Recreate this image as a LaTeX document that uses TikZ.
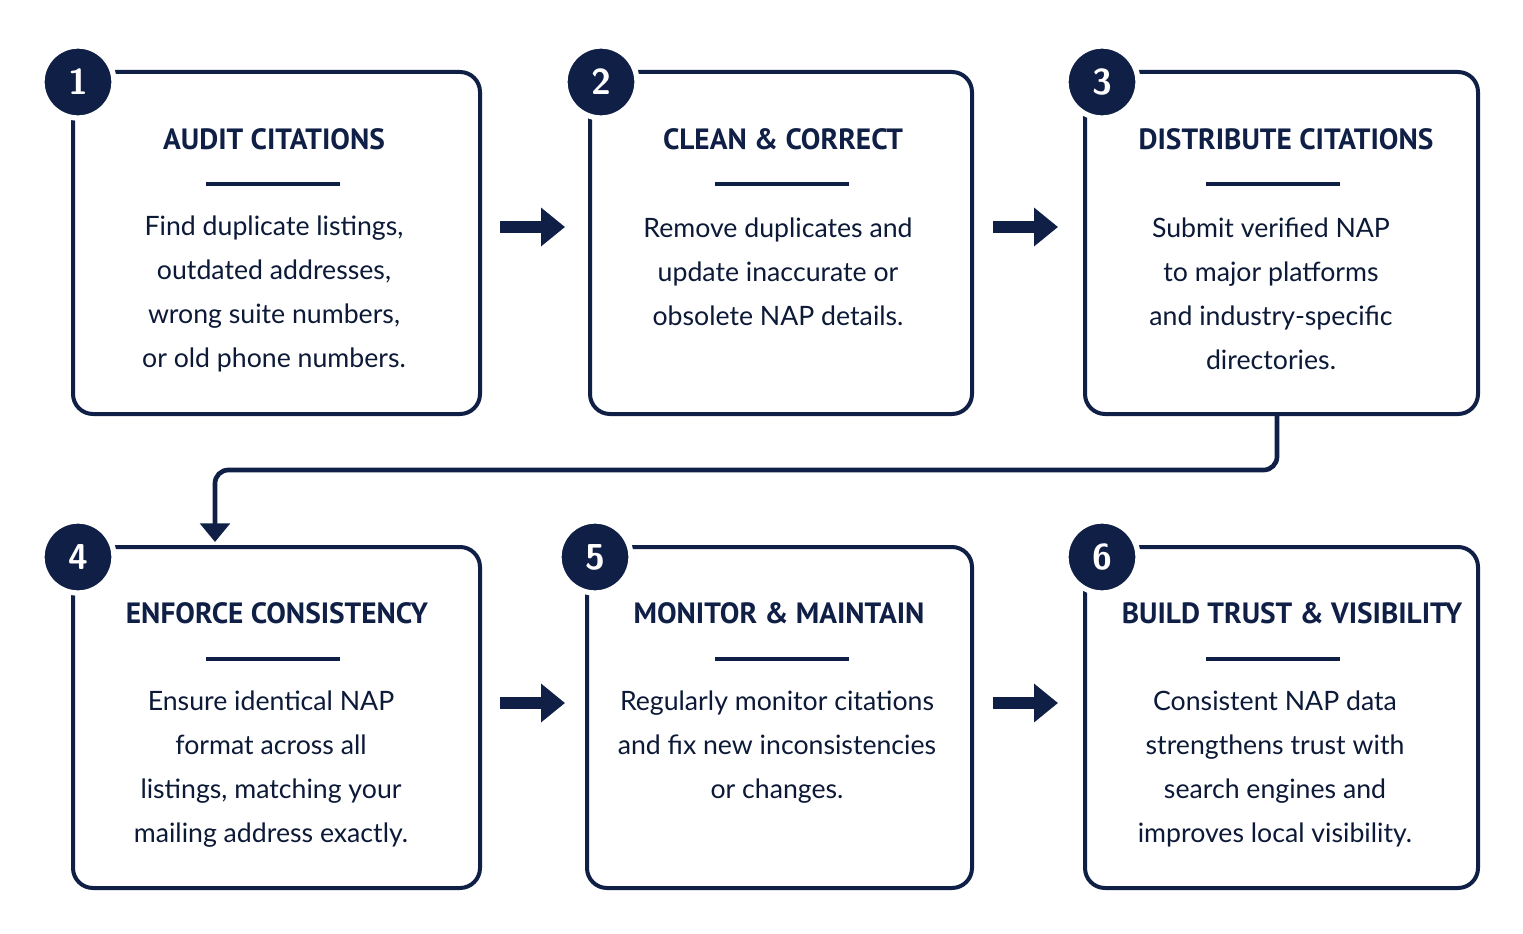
\documentclass[tikz,border=0pt]{standalone}
\usepackage{fontspec}
\setmainfont{Lato}
\newfontfamily\titlefont{PT Sans}
\usetikzlibrary{arrows.meta}
\definecolor{navy}{HTML}{0F1F45}
\tikzset{every picture/.style={line width=0.75pt}}
\tikzset{
  stepbox/.style={draw=navy,line width=3pt,rounded corners=15pt,fill=white},
  stepnum/.style={circle,fill=navy,draw=white,line width=4pt,minimum size=54pt,inner sep=0pt,text=white,font=\fontsize{27}{27}\selectfont\bfseries\sffamily},
  steptitle/.style={text=navy,inner sep=0.75pt,font=\titlefont\bfseries\fontsize{22}{26}\selectfont},
  stepbody/.style={text=navy!80!black,inner sep=0.75pt,align=center,font=\fontsize{20}{33}\selectfont},
  flow/.style={draw=navy,line width=9pt,-{Triangle[length=18pt,width=28pt]}},
  link/.style={draw=navy,line width=3.5pt,rounded corners=10pt,-{Triangle[length=14pt,width=22pt]}}
}
\begin{document}
\begin{tikzpicture}[x=0.75pt,y=0.75pt,yscale=-1,xscale=1]
\useasboundingbox (0,0) rectangle (1523,934);

%Boxes
\draw[stepbox] (73,72) rectangle (480,414);
\draw[stepbox] (590,72) rectangle (972,414);
\draw[stepbox] (1085,72) rectangle (1478,414);
\draw[stepbox] (73,547) rectangle (480,888);
\draw[stepbox] (587,547) rectangle (972,888);
\draw[stepbox] (1085,547) rectangle (1478,888);

%Number badges
\node[stepnum] (n1) at (78,82) {1};
\node[stepnum] (n2) at (601,82) {2};
\node[stepnum] (n3) at (1102,82) {3};
\node[stepnum] (n4) at (78,557) {4};
\node[stepnum] (n5) at (595,557) {5};
\node[stepnum] (n6) at (1102,557) {6};

%Titles
\node[steptitle] (t1) at (274,139) {AUDIT CITATIONS};
\node[steptitle] (t2) at (783,139) {CLEAN \& CORRECT};
\node[steptitle] (t3) at (1286,139) {DISTRIBUTE CITATIONS};
\node[steptitle] (t4) at (277,613) {ENFORCE CONSISTENCY};
\node[steptitle] (t5) at (779,613) {MONITOR \& MAINTAIN};
\node[steptitle] (t6) at (1292,613) {BUILD TRUST \& VISIBILITY};

%Rules
\foreach \x/\y in {273/184,782/184,1273/184,273/659,782/659,1273/659}
  \draw[navy,line width=3pt] (\x-67,\y) -- (\x+67,\y);

%Texts
\node[stepbody] (b1) at (274,294) {Find duplicate listings,\\outdated addresses,\\wrong suite numbers,\\or old phone numbers.};
\node[stepbody] (b2) at (778,272) {Remove duplicates and\\update inaccurate or\\obsolete NAP details.};
\node[stepbody] (b3) at (1271,294) {Submit verified NAP\\to major platforms\\and industry-specific\\directories.};
\node[stepbody] (b4) at (271,769) {Ensure identical NAP\\format across all\\listings, matching your\\mailing address exactly.};
\node[stepbody] (b5) at (777,747) {Regularly monitor citations\\and fix new inconsistencies\\or changes.};
\node[stepbody] (b6) at (1275,769) {Consistent NAP data\\strengthens trust with\\search engines and\\improves local visibility.};

%Connectors
\coordinate (a1) at (500,227); \coordinate (a2) at (565,227);
\coordinate (a3) at (993,227); \coordinate (a4) at (1058,227);
\coordinate (a5) at (500,703); \coordinate (a6) at (565,703);
\coordinate (a7) at (993,703); \coordinate (a8) at (1058,703);
\draw[flow] (a1) -- (a2);
\draw[flow] (a3) -- (a4);
\draw[flow] (a5) -- (a6);
\draw[flow] (a7) -- (a8);
\coordinate (d1) at (1277,416); \coordinate (d2) at (215,542);
\draw[link] (d1) |- (215,470) -- (d2);

\end{tikzpicture}
\end{document}
